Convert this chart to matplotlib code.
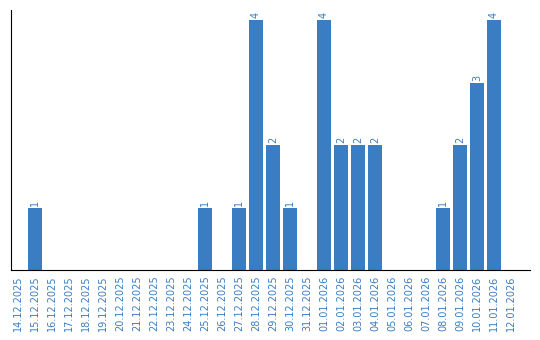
import numpy as np
from matplotlib import pyplot as plt

dates = ['14.12.2025', '15.12.2025', '16.12.2025', '17.12.2025', '18.12.2025',
         '19.12.2025', '20.12.2025', '21.12.2025', '22.12.2025', '23.12.2025',
         '24.12.2025', '25.12.2025', '26.12.2025', '27.12.2025', '28.12.2025',
         '29.12.2025', '30.12.2025', '31.12.2025', '01.01.2026', '02.01.2026',
         '03.01.2026', '04.01.2026', '05.01.2026', '06.01.2026', '07.01.2026',
         '08.01.2026', '09.01.2026', '10.01.2026', '11.01.2026', '12.01.2026']
counts = [0, 1, 0, 0, 0, 0, 0, 0, 0, 0,
          0, 1, 0, 1, 4, 2, 1, 0, 4, 2,
          2, 2, 0, 0, 0, 1, 2, 3, 4, 0]

blue = '#3a7dc2'

fig = plt.figure(figsize=(5.4, 3.4), dpi=100)
ax = fig.add_axes([11/540, 70/340, 519/540, 260/340])

ind = np.arange(len(dates))
ax.bar(ind, counts, 0.82, color=blue)

# labels above bars
for i in range(len(counts)):
    if counts[i] > 0:
        ax.text(ind[i], counts[i] + 0.03, str(counts[i]), rotation=90,
                ha='center', va='bottom', color=blue, fontsize=7)

ax.set_xlim(-0.41, 30.12)
ax.set_ylim(0, 4.16)
ax.set_xticks(ind)
ax.set_xticklabels(dates, rotation=90, color=blue, fontsize=7)
ax.tick_params(axis='x', length=0, pad=4)
ax.set_yticks([])
ax.spines['top'].set_visible(False)
ax.spines['right'].set_visible(False)

fig.savefig('out.png', dpi=100)
